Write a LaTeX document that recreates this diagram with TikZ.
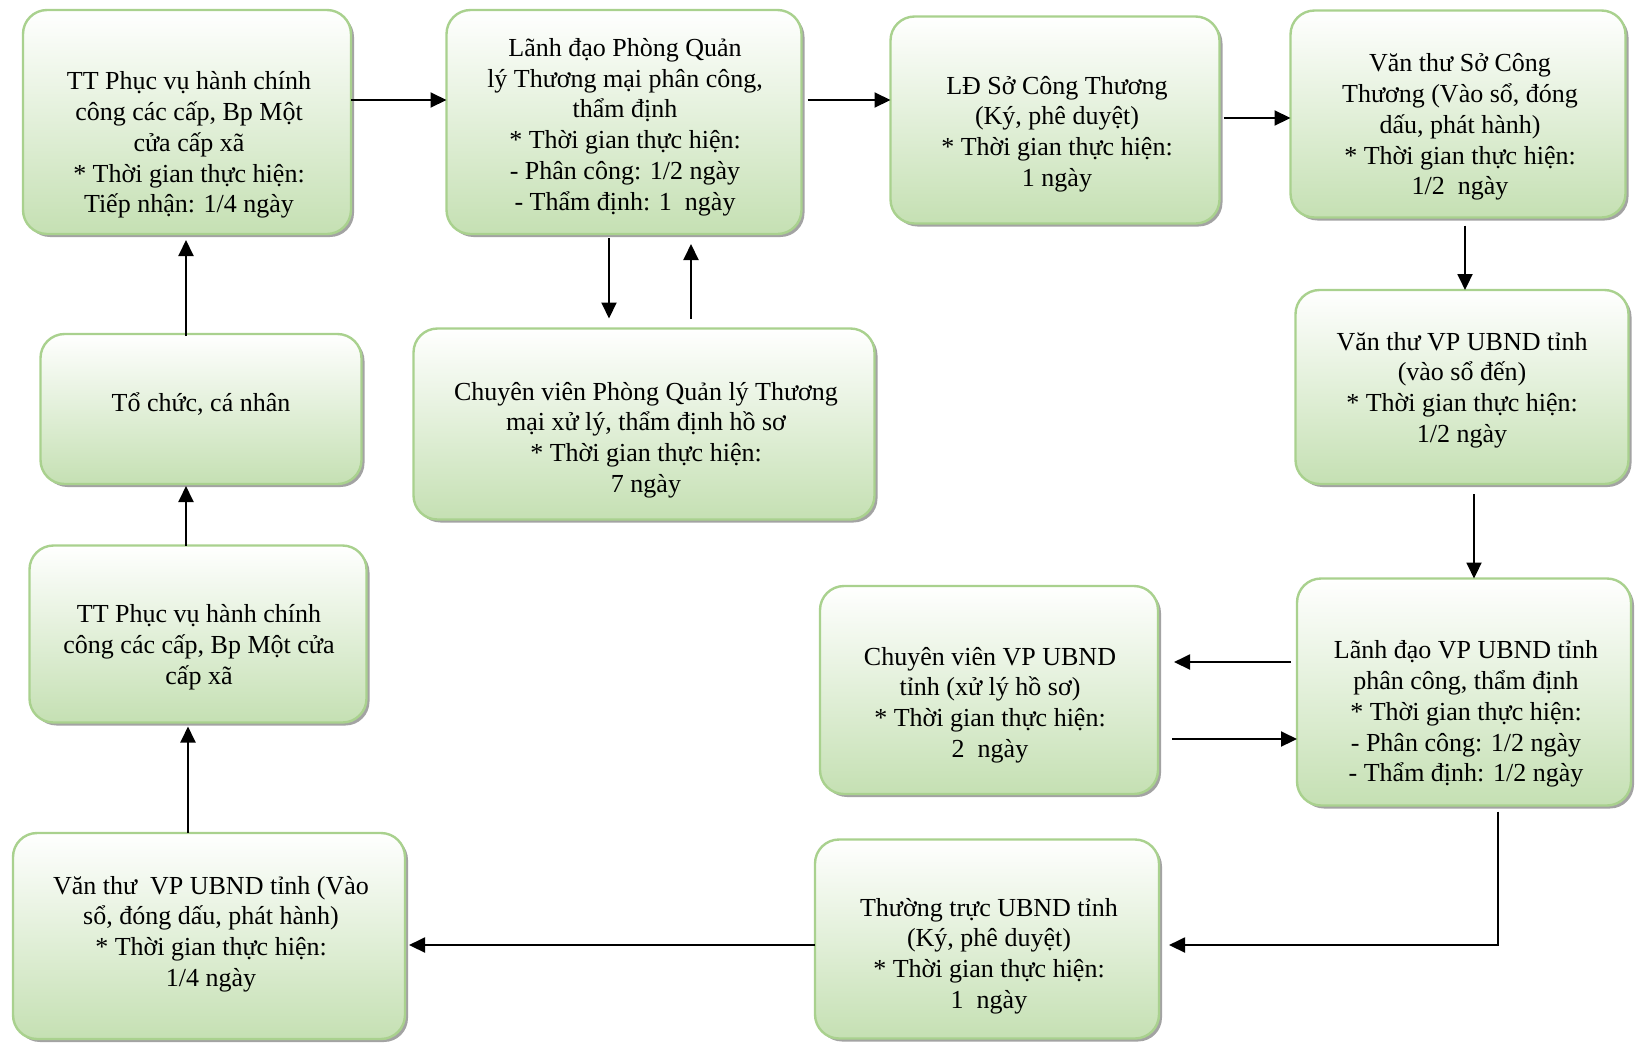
\documentclass[tikz,border=0pt]{standalone}
\usepackage{fontspec}
\setmainfont{Liberation Serif}
\usetikzlibrary{positioning,arrows.meta,shadows}
\definecolor{boxline}{HTML}{A9D18E}
\definecolor{boxfill}{HTML}{C5E0B3}

\begin{document}
\begin{tikzpicture}[
    x=0.5pt, y=-0.5pt,
 mybox/.style = {
        draw=boxline, line width=1.2pt, rounded corners=12pt,
        top color=white, bottom color=boxfill,
        drop shadow={shadow xshift=1.5pt, shadow yshift=-1.5pt,
                     fill=black!45, opacity=0.8},
        inner sep=0pt, outer sep=0pt},
mytext/.style = {
        align=center, inner sep=0pt,
        font=\fontsize{13pt}{15.4pt}\selectfont},
     arrow/.style = {line width=1pt,-{Triangle[length=8pt,width=7.5pt]}}
                    ]
\useasboundingbox (0,0) rectangle (1636,1045);
% the boxes
\node (b1)  [mybox, minimum width=164pt,   minimum height=112pt]  at (187,122)  {};
\node (b2)  [mybox, minimum width=177.5pt, minimum height=112pt]  at (624,122)  {};
\node (b3)  [mybox, minimum width=164.5pt, minimum height=103.5pt] at (1055,120) {};
\node (b4)  [mybox, minimum width=167.5pt, minimum height=103.5pt] at (1458,114) {};
\node (b5)  [mybox, minimum width=166.5pt, minimum height=97pt]   at (1462,387) {};
\node (b6)  [mybox, minimum width=167pt,   minimum height=113.5pt] at (1464,692) {};
\node (b7)  [mybox, minimum width=169pt,   minimum height=104pt]  at (989,690)  {};
\node (b8)  [mybox, minimum width=172pt,   minimum height=99.5pt] at (987,939)  {};
\node (b9)  [mybox, minimum width=196pt,   minimum height=103pt]  at (209,936)  {};
\node (b10) [mybox, minimum width=168.5pt, minimum height=88.5pt] at (198,634)  {};
\node (b11) [mybox, minimum width=160.5pt, minimum height=75pt]   at (201,409)  {};
\node (b12) [mybox, minimum width=230.5pt, minimum height=95.5pt] at (644,424)  {};
% the texts
\node (t1)  [mytext] at (189,145)  {TT Phục vụ hành chính\\công các cấp, Bp Một\\
                                    cửa cấp xã\\* Thời gian thực hiện:\\Tiếp nhận: 1/4 ngày};
\node (t2)  [mytext] at (625,127)  {Lãnh đạo Phòng Quản\\lý Thương mại phân công,\\
                                    thẩm định\\* Thời gian thực hiện:\\- Phân công: 1/2 ngày\\
                                    - Thẩm định: 1~ ngày};
\node (t3)  [mytext] at (1057,134) {LĐ Sở Công Thương\\(Ký, phê duyệt)\\
                                    * Thời gian thực hiện:\\1 ngày};
\node (t4)  [mytext] at (1460,127) {Văn thư Sở Công\\Thương (Vào sổ, đóng\\dấu, phát hành)\\
                                    * Thời gian thực hiện:\\1/2~ ngày};
\node (t5)  [mytext] at (1462,390) {Văn thư VP UBND tỉnh\\(vào sổ đến)\\
                                    * Thời gian thực hiện:\\1/2 ngày};
\node (t6)  [mytext] at (1466,714) {Lãnh đạo VP UBND tỉnh\\phân công, thẩm định\\
                                    * Thời gian thực hiện:\\- Phân công: 1/2 ngày\\
                                    - Thẩm định: 1/2 ngày};
\node (t7)  [mytext] at (990,705)  {Chuyên viên VP UBND\\tỉnh (xử lý hồ sơ)\\
                                    * Thời gian thực hiện:\\2~ ngày};
\node (t8)  [mytext] at (989,956)  {Thường trực UBND tỉnh\\(Ký, phê duyệt)\\
                                    * Thời gian thực hiện:\\1~ ngày};
\node (t9)  [mytext] at (211,934)  {Văn thư~ VP UBND tỉnh (Vào\\sổ, đóng dấu, phát hành)\\
                                    * Thời gian thực hiện:\\1/4 ngày};
\node (t10) [mytext] at (199,647)  {TT Phục vụ hành chính\\công các cấp, Bp Một cửa\\cấp xã};
\node (t11) [mytext] at (201,404)  {Tổ chức, cá nhân};
\node (t12) [mytext] at (646,440)  {Chuyên viên Phòng Quản lý Thương\\mại xử lý, thẩm định hồ sơ\\
                                    * Thời gian thực hiện:\\7 ngày};
% the arrows along the top row
\draw[arrow] ([yshift=11pt]b1.east) coordinate (a) -- (a -| b2.west);
\draw[arrow] ([xshift=3pt,yshift=11pt]b2.east) coordinate (a) -- (a -| b3.west);
\draw[arrow] ([xshift=2pt,yshift=1pt]b3.east) coordinate (a) -- (a -| b4.west);
% between the two boxes in the middle
\draw[arrow] ([xshift=-7.5pt,yshift=-2pt]b2.south) coordinate (a) -- ([yshift=5pt]a |- b12.north);
\draw[arrow] ([xshift=23.5pt,yshift=5pt]b12.north) coordinate (a) -- ([yshift=-5pt]a |- b2.south);
% down the right side
\draw[arrow] ([xshift=3.5pt,yshift=-4pt]b4.south) coordinate (a) -- (a |- b5.north);
\draw[arrow] ([xshift=6pt,yshift=-5pt]b5.south) coordinate (a) -- (a |- b6.north);
\draw[arrow] ([xshift=-3pt,yshift=15pt]b6.west) coordinate (a) -- ([xshift=8pt]a -| b7.east);
\draw[arrow] ([xshift=7pt,yshift=-24.5pt]b7.east) coordinate (a) -- (a -| b6.west);
\draw[arrow] ([xshift=17pt,yshift=-3pt]b6.south) |- ([xshift=5pt,yshift=-3pt]b8.east);
% along the bottom and up the left side
\draw[arrow] ([yshift=-3pt]b8.west) coordinate (a) -- ([xshift=2pt]a -| b9.east);
\draw[arrow] ([xshift=-10.5pt]b9.north) coordinate (a) -- ([yshift=-2pt]a |- b10.south);
\draw[arrow] ([xshift=-6pt]b10.north) coordinate (a) -- ([yshift=-1pt]a |- b11.south);
\draw[arrow] ([xshift=-7.5pt,yshift=-1pt]b11.north) coordinate (a) -- ([yshift=-3pt]a |- b1.south);
\end{tikzpicture}
\end{document}
